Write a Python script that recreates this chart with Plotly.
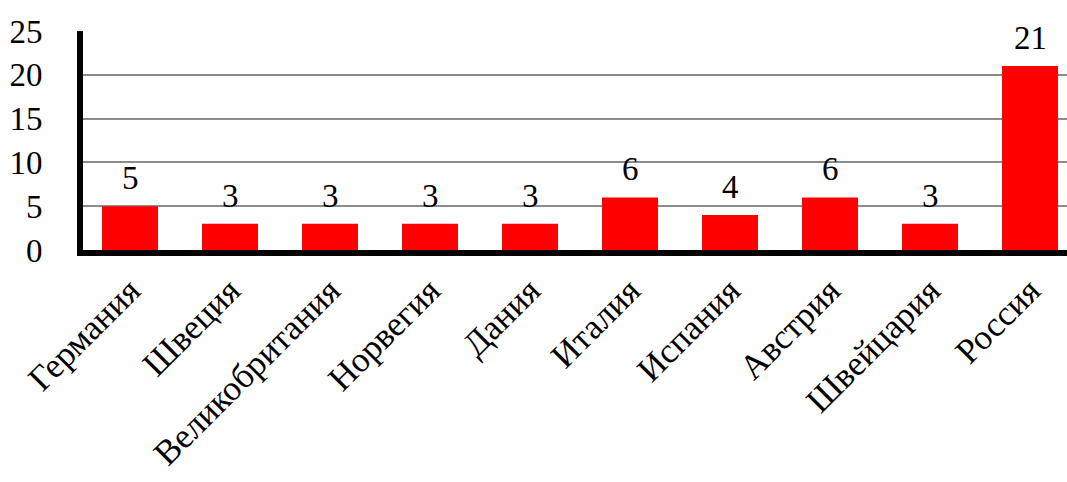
import plotly.graph_objects as go

countries = ["Германия", "Швеция", "Великобритания", "Норвегия", "Дания",
             "Италия", "Испания", "Австрия", "Швейцария", "Россия"]
counts = [5, 3, 3, 3, 3, 6, 4, 6, 3, 21]

SERIF = "Liberation Serif"

fig = go.Figure(
    go.Bar(
        x=countries,
        y=counts,
        marker=dict(color="#FF0000", line=dict(width=0)),
        width=0.56,
    )
)

# value labels above each bar
for c, v in zip(countries, counts):
    fig.add_annotation(
        x=c, y=v, text=str(v), showarrow=False,
        yanchor="bottom", yshift=8,
        font=dict(family=SERIF, size=33, color="black"),
    )

fig.update_layout(
    width=1067, height=482,
    margin=dict(l=83, r=0, t=31, b=232, autoexpand=False),
    paper_bgcolor="white", plot_bgcolor="white",
    showlegend=False,
    font=dict(family="serif", size=33, color="black"),
)

fig.update_xaxes(
    range=[-0.47, 9.37],
    tickangle=-45,
    automargin=False,
    showline=True, linecolor="black", linewidth=6,
    showgrid=False, ticks="",
    tickfont=dict(family=SERIF, size=35, color="black"),
)

fig.update_yaxes(
    range=[0, 25], dtick=5,
    automargin=False,
    showline=True, linecolor="black", linewidth=6,
    showgrid=True, gridcolor="#8c8c8c", gridwidth=2,
    zeroline=False, ticks="",
    ticklabelstandoff=28,
    tickfont=dict(family=SERIF, size=33, color="black"),
)

fig.write_html("out.html")
